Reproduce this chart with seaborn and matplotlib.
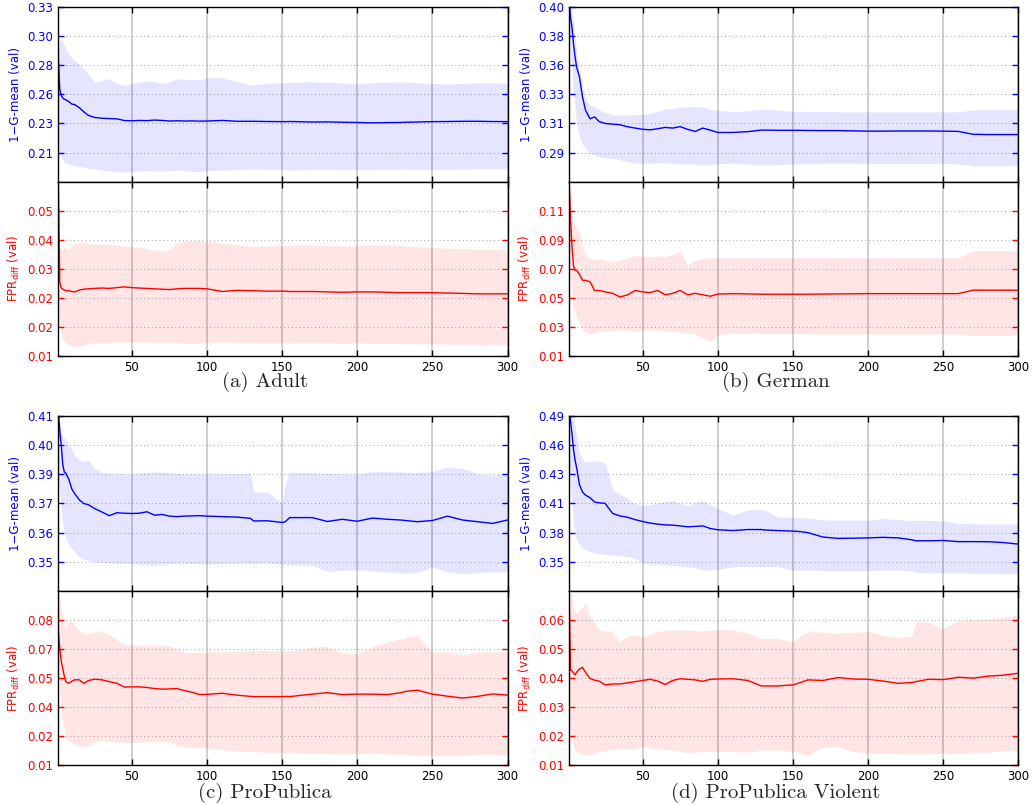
import numpy as np
import matplotlib
matplotlib.use("Agg")
import matplotlib.pyplot as plt
import seaborn as sns

# iteration grid the curves were read at
iters = [1, 2, 3, 4, 5, 6, 8, 10, 12, 15, 18, 21, 25,
         30, 35, 40, 45, 50, 55, 60, 65, 70, 75, 80, 85, 90, 95, 100,
         110, 120, 129, 131, 140, 150, 152, 155, 160, 170, 180, 190,
         200, 210, 220, 229, 232, 240, 250, 260, 270, 280, 290, 300]

# (a) Adult
adult_gm = [0.289, 0.262, 0.257, 0.255, 0.254, 0.2535, 0.252, 0.250, 0.2495, 0.247, 0.2436, 0.2407, 0.239,
            0.2383, 0.238, 0.2378, 0.2364, 0.2362, 0.2365, 0.2363, 0.2368, 0.2365, 0.236, 0.2362, 0.236, 0.2361, 0.2359, 0.236,
            0.2365, 0.2358, 0.2358, 0.2358, 0.2356, 0.2355, 0.2355, 0.2356, 0.2355, 0.2352, 0.2353, 0.235,
            0.2348, 0.2345, 0.2347, 0.2348, 0.235, 0.2352, 0.2355, 0.2356, 0.2358, 0.2358, 0.2356, 0.2355]
adult_gm_hi = [0.300, 0.302, 0.304, 0.302, 0.298, 0.295, 0.291, 0.288, 0.286, 0.283, 0.279, 0.275, 0.268,
               0.2695, 0.271, 0.267, 0.265, 0.267, 0.268, 0.269, 0.2685, 0.267, 0.268, 0.271, 0.2705, 0.270, 0.270, 0.2715,
               0.2715, 0.2685, 0.266, 0.266, 0.267, 0.2675, 0.2675, 0.2678, 0.268, 0.2685, 0.268, 0.2675,
               0.267, 0.2675, 0.268, 0.2685, 0.268, 0.2675, 0.267, 0.2665, 0.267, 0.2675, 0.2675, 0.267]
adult_gm_lo = [0.215, 0.209, 0.206, 0.204, 0.2025, 0.2015, 0.2005, 0.1995, 0.199, 0.1985, 0.198, 0.197, 0.1965,
               0.1956, 0.195, 0.1942, 0.1939, 0.1942, 0.1948, 0.1952, 0.195, 0.1948, 0.1952, 0.1955, 0.195, 0.1942, 0.1945, 0.195,
               0.1955, 0.196, 0.1965, 0.1965, 0.1962, 0.196, 0.196, 0.1958, 0.1958, 0.196, 0.1962, 0.196,
               0.1958, 0.196, 0.1962, 0.1963, 0.1963, 0.1962, 0.196, 0.1962, 0.1964, 0.1966, 0.1966, 0.1965]
adult_fpr = [0.057, 0.029, 0.0275, 0.0272, 0.027, 0.0268, 0.0268, 0.0266, 0.0265, 0.027, 0.0272, 0.0273, 0.0274,
             0.0275, 0.0274, 0.0276, 0.0278, 0.0276, 0.0275, 0.0274, 0.0273, 0.0272, 0.0271, 0.0273, 0.0274, 0.0274, 0.0274, 0.0273,
             0.0266, 0.0269, 0.0268, 0.0268, 0.0267, 0.0267, 0.0267, 0.0266, 0.0266, 0.0266, 0.0265, 0.0264,
             0.0265, 0.0265, 0.0264, 0.0263, 0.0263, 0.0263, 0.0263, 0.0262, 0.0261, 0.026, 0.026, 0.026]
adult_fpr_hi = [0.056, 0.038, 0.0375, 0.0378, 0.038, 0.0378, 0.0376, 0.0385, 0.039, 0.0393, 0.0395, 0.039, 0.0388,
                0.0389, 0.0388, 0.0386, 0.0384, 0.0382, 0.0379, 0.0377, 0.0372, 0.037, 0.0374, 0.0393, 0.0396, 0.0398, 0.0398, 0.0397,
                0.0392, 0.0387, 0.0383, 0.0383, 0.0384, 0.0385, 0.0385, 0.0386, 0.0386, 0.0386, 0.0385, 0.0384,
                0.0385, 0.0386, 0.0386, 0.0385, 0.0384, 0.0382, 0.038, 0.0378, 0.0377, 0.0376, 0.0375, 0.0374]
adult_fpr_lo = [0.021, 0.0175, 0.0155, 0.0143, 0.0138, 0.0134, 0.013, 0.0127, 0.0124, 0.0125, 0.0128, 0.013, 0.0132,
                0.0133, 0.0134, 0.0135, 0.0136, 0.0136, 0.0134, 0.0135, 0.0134, 0.0133, 0.0135, 0.0133, 0.0132, 0.0131, 0.0132, 0.0134,
                0.0135, 0.0134, 0.0134, 0.0134, 0.0133, 0.0133, 0.0133, 0.0133, 0.0134, 0.0133, 0.0133, 0.0132,
                0.0133, 0.0132, 0.0132, 0.0131, 0.0131, 0.0131, 0.013, 0.013, 0.0129, 0.0129, 0.0128, 0.0128]

# (b) German
german_gm = [0.41, 0.392, 0.385, 0.372, 0.363, 0.355, 0.347, 0.332, 0.322, 0.3155, 0.317, 0.3135, 0.312,
             0.3115, 0.311, 0.3095, 0.3085, 0.3076, 0.3072, 0.308, 0.309, 0.3085, 0.3096, 0.3075, 0.306, 0.3085, 0.307, 0.3052,
             0.3052, 0.3058, 0.307, 0.307, 0.3068, 0.3068, 0.3068, 0.3068, 0.3067, 0.3066, 0.3066, 0.3064,
             0.3062, 0.3062, 0.3063, 0.3063, 0.3063, 0.3063, 0.3062, 0.306, 0.3038, 0.3036, 0.3036, 0.3036]
german_gm_hi = [0.42, 0.41, 0.395, 0.388, 0.377, 0.366, 0.352, 0.340, 0.330, 0.326, 0.3245, 0.3225, 0.3205,
                0.3185, 0.3185, 0.3185, 0.3184, 0.319, 0.3197, 0.321, 0.323, 0.3235, 0.3243, 0.3245, 0.3248, 0.3245, 0.3225, 0.322,
                0.321, 0.3215, 0.3228, 0.3228, 0.322, 0.3212, 0.3212, 0.3212, 0.321, 0.321, 0.3208, 0.3208,
                0.3208, 0.3208, 0.3208, 0.3208, 0.3208, 0.3208, 0.3208, 0.3208, 0.3222, 0.3222, 0.3222, 0.3222]
german_gm_lo = [0.385, 0.365, 0.35, 0.333, 0.325, 0.312, 0.302, 0.296, 0.293, 0.2896, 0.288, 0.287, 0.286,
                0.2855, 0.2845, 0.2832, 0.282, 0.2818, 0.282, 0.2822, 0.2821, 0.282, 0.2816, 0.2814, 0.281, 0.2805, 0.2808, 0.2815,
                0.2821, 0.2815, 0.2805, 0.2805, 0.281, 0.2815, 0.2815, 0.2815, 0.2818, 0.282, 0.282, 0.282,
                0.2818, 0.2818, 0.2818, 0.2818, 0.2818, 0.2818, 0.2818, 0.2815, 0.28, 0.28, 0.2799, 0.2799]
german_fpr = [0.135, 0.105, 0.085, 0.072, 0.069, 0.069, 0.066, 0.062, 0.062, 0.061, 0.055, 0.055, 0.054,
              0.053, 0.0505, 0.052, 0.055, 0.054, 0.0535, 0.055, 0.052, 0.053, 0.055, 0.052, 0.053, 0.052, 0.051, 0.0525,
              0.0528, 0.0526, 0.0524, 0.0524, 0.0524, 0.0524, 0.0524, 0.0524, 0.0524, 0.0525, 0.0526, 0.0527,
              0.0528, 0.0528, 0.0528, 0.0528, 0.0528, 0.0528, 0.0528, 0.0528, 0.0552, 0.0552, 0.0552, 0.0552]
german_fpr_hi = [0.135, 0.115, 0.104, 0.102, 0.100, 0.098, 0.095, 0.085, 0.079, 0.077, 0.076, 0.077, 0.076,
                 0.075, 0.076, 0.077, 0.079, 0.079, 0.078, 0.079, 0.078, 0.080, 0.082, 0.072, 0.076, 0.077, 0.0772, 0.0775,
                 0.0775, 0.0775, 0.0775, 0.0775, 0.0775, 0.0775, 0.0775, 0.0775, 0.0775, 0.0775, 0.0775, 0.0775,
                 0.0775, 0.0775, 0.0775, 0.0775, 0.0775, 0.0775, 0.0775, 0.0775, 0.0825, 0.0825, 0.0825, 0.0825]
german_fpr_lo = [0.09, 0.065, 0.05, 0.043, 0.04, 0.037, 0.032, 0.028, 0.026, 0.025, 0.026, 0.027, 0.027,
                 0.0272, 0.0279, 0.0275, 0.0268, 0.0275, 0.0279, 0.0276, 0.0268, 0.027, 0.0262, 0.0256, 0.025, 0.022, 0.0198, 0.0245,
                 0.0255, 0.0255, 0.0253, 0.0253, 0.0252, 0.0252, 0.0252, 0.0252, 0.0251, 0.0251, 0.025, 0.025,
                 0.025, 0.025, 0.025, 0.025, 0.025, 0.025, 0.025, 0.025, 0.024, 0.024, 0.024, 0.024]

# (c) ProPublica
propub_gm = [0.412, 0.404, 0.398, 0.390, 0.387, 0.3865, 0.384, 0.380, 0.378, 0.3755, 0.374, 0.3735, 0.372,
             0.3705, 0.369, 0.3702, 0.370, 0.3699, 0.370, 0.3706, 0.3692, 0.3695, 0.3688, 0.3686, 0.3688, 0.3689, 0.369, 0.3688,
             0.3686, 0.3684, 0.3679, 0.3668, 0.3669, 0.3662, 0.3665, 0.3682, 0.3682, 0.3682, 0.3666, 0.3675,
             0.3667, 0.368, 0.3675, 0.3672, 0.367, 0.3665, 0.367, 0.3688, 0.3672, 0.3665, 0.3658, 0.3672]
propub_gm_hi = [0.415, 0.41, 0.4028, 0.4015, 0.401, 0.400, 0.398, 0.396, 0.3935, 0.392, 0.3912, 0.3918, 0.3885,
                0.3868, 0.3864, 0.3865, 0.3862, 0.3862, 0.3866, 0.3868, 0.387, 0.387, 0.3866, 0.3864, 0.3862, 0.3862, 0.3862, 0.3862,
                0.3862, 0.3863, 0.3864, 0.3788, 0.3788, 0.374, 0.3822, 0.387, 0.3868, 0.3866, 0.3864, 0.3862,
                0.386, 0.3872, 0.3872, 0.387, 0.3868, 0.3868, 0.3872, 0.389, 0.3885, 0.3862, 0.3855, 0.387]
propub_gm_lo = [0.385, 0.379, 0.3712, 0.366, 0.3625, 0.360, 0.357, 0.3555, 0.354, 0.352, 0.351, 0.3507, 0.350,
                0.3497, 0.3495, 0.3494, 0.3494, 0.3494, 0.349, 0.3488, 0.3487, 0.349, 0.3492, 0.3494, 0.3494, 0.3493, 0.3492, 0.3492,
                0.3492, 0.3493, 0.3494, 0.3494, 0.3495, 0.349, 0.3487, 0.3487, 0.3487, 0.3487, 0.346, 0.3465,
                0.3467, 0.3462, 0.3459, 0.3455, 0.3452, 0.3455, 0.3478, 0.3459, 0.3452, 0.3455, 0.3459, 0.3459]
propub_fpr = [0.0752, 0.0665, 0.060, 0.0565, 0.053, 0.0503, 0.0495, 0.0505, 0.0512, 0.0512, 0.0495, 0.0508, 0.0515,
              0.0512, 0.0503, 0.0495, 0.0477, 0.0478, 0.0478, 0.0475, 0.047, 0.0467, 0.0468, 0.047, 0.046, 0.0452, 0.0441, 0.0442,
              0.0447, 0.0438, 0.0432, 0.0431, 0.0431, 0.0431, 0.0432, 0.0431, 0.0435, 0.0443, 0.045, 0.0441,
              0.0443, 0.0443, 0.0441, 0.045, 0.0456, 0.0462, 0.0443, 0.0433, 0.0424, 0.0432, 0.0444, 0.0438]
propub_fpr_hi = [0.093, 0.090, 0.0865, 0.081, 0.078, 0.0755, 0.079, 0.080, 0.077, 0.0752, 0.0738, 0.0735, 0.0742,
                 0.0744, 0.073, 0.0705, 0.0682, 0.068, 0.068, 0.068, 0.068, 0.0678, 0.0676, 0.066, 0.0645, 0.0643, 0.0645, 0.0645,
                 0.0648, 0.065, 0.0653, 0.0653, 0.0653, 0.0652, 0.0652, 0.0652, 0.0655, 0.067, 0.0672, 0.064,
                 0.0634, 0.0672, 0.0695, 0.071, 0.0715, 0.0725, 0.0645, 0.0648, 0.0632, 0.0645, 0.0647, 0.0647]
propub_fpr_lo = [0.060, 0.046, 0.036, 0.031, 0.027, 0.024, 0.0215, 0.0207, 0.0198, 0.019, 0.019, 0.0195, 0.021,
                 0.0222, 0.0215, 0.0212, 0.0212, 0.0212, 0.0212, 0.0213, 0.0213, 0.0213, 0.0214, 0.0195, 0.019, 0.0186, 0.0184, 0.0183,
                 0.0175, 0.0168, 0.0165, 0.0165, 0.0163, 0.0161, 0.016, 0.016, 0.016, 0.0158, 0.0156, 0.0156,
                 0.0156, 0.0157, 0.0156, 0.0152, 0.015, 0.0146, 0.0148, 0.0145, 0.0147, 0.0152, 0.015, 0.0148]

# (d) ProPublica Violent
violent_gm = [0.50, 0.485, 0.4732, 0.458, 0.448, 0.441, 0.424, 0.417, 0.414, 0.4115, 0.4075, 0.4066, 0.4062,
              0.3965, 0.394, 0.3928, 0.3905, 0.3887, 0.3872, 0.3862, 0.3855, 0.3852, 0.3845, 0.3836, 0.384, 0.3845, 0.382, 0.3808,
              0.380, 0.381, 0.381, 0.3806, 0.380, 0.3795, 0.3793, 0.379, 0.378, 0.3738, 0.3725, 0.3727,
              0.373, 0.3735, 0.373, 0.3712, 0.3702, 0.3702, 0.3705, 0.3694, 0.3694, 0.3693, 0.3685, 0.367]
violent_gm_hi = [0.52, 0.51, 0.50, 0.49, 0.48, 0.472, 0.455, 0.449, 0.446, 0.446, 0.4465, 0.447, 0.445,
                 0.419, 0.415, 0.4105, 0.406, 0.4043, 0.405, 0.4065, 0.408, 0.409, 0.406, 0.404, 0.407, 0.409, 0.405, 0.4012,
                 0.3948, 0.3998, 0.3998, 0.3998, 0.3934, 0.3925, 0.3924, 0.3922, 0.392, 0.3902, 0.390, 0.390,
                 0.390, 0.3917, 0.3905, 0.3897, 0.3897, 0.3897, 0.3895, 0.387, 0.3866, 0.3863, 0.3863, 0.3863]
violent_gm_lo = [0.45, 0.425, 0.405, 0.387, 0.378, 0.371, 0.367, 0.3635, 0.3615, 0.3595, 0.3585, 0.358, 0.357,
                 0.3563, 0.3558, 0.3552, 0.353, 0.3488, 0.348, 0.3476, 0.347, 0.3466, 0.346, 0.3453, 0.344, 0.3425, 0.342, 0.3425,
                 0.3453, 0.3453, 0.3453, 0.3453, 0.3453, 0.3422, 0.342, 0.342, 0.3418, 0.3416, 0.3416, 0.3416,
                 0.3416, 0.3418, 0.342, 0.341, 0.340, 0.3396, 0.3396, 0.3396, 0.339, 0.3388, 0.3385, 0.3382]
violent_fpr = [0.072, 0.0428, 0.0425, 0.0418, 0.0411, 0.042, 0.0432, 0.0437, 0.042, 0.0399, 0.0393, 0.039, 0.0377,
               0.038, 0.038, 0.0384, 0.0388, 0.0392, 0.0396, 0.039, 0.0378, 0.0392, 0.0398, 0.0396, 0.0394, 0.0389, 0.0396, 0.0397,
               0.0398, 0.0392, 0.0373, 0.0373, 0.0373, 0.0377, 0.038, 0.0385, 0.0394, 0.0392, 0.0402, 0.0397,
               0.0396, 0.039, 0.0382, 0.0385, 0.0388, 0.0396, 0.0395, 0.0403, 0.040, 0.0407, 0.041, 0.0417]
violent_fpr_hi = [0.072, 0.070, 0.068, 0.0646, 0.063, 0.0623, 0.0635, 0.0646, 0.066, 0.0612, 0.059, 0.0566, 0.0562,
                  0.056, 0.0525, 0.0545, 0.0549, 0.0543, 0.0552, 0.056, 0.0566, 0.0565, 0.0567, 0.0566, 0.0563, 0.0562, 0.0565, 0.0568,
                  0.0566, 0.0555, 0.0537, 0.0537, 0.0537, 0.0525, 0.0535, 0.0545, 0.056, 0.0558, 0.0555, 0.0558,
                  0.056, 0.0548, 0.054, 0.0545, 0.0594, 0.0594, 0.057, 0.0598, 0.060, 0.0605, 0.061, 0.0617]
violent_fpr_lo = [0.030, 0.022, 0.0187, 0.0165, 0.0155, 0.0147, 0.0142, 0.0138, 0.0135, 0.0137, 0.0142, 0.0147, 0.015,
                  0.0155, 0.0159, 0.0156, 0.0155, 0.0165, 0.016, 0.0155, 0.0155, 0.0152, 0.0148, 0.0143, 0.0145, 0.0147, 0.0147, 0.0147,
                  0.0147, 0.0145, 0.0153, 0.0153, 0.0153, 0.0148, 0.0145, 0.014, 0.0135, 0.0162, 0.0164, 0.0148,
                  0.0141, 0.0141, 0.014, 0.014, 0.014, 0.014, 0.0141, 0.0141, 0.0143, 0.0145, 0.015, 0.0153]

captions = ['(a) Adult', '(b) German', '(c) ProPublica', '(d) ProPublica Violent']

gm_ylims = [(0.186, 0.33), (0.268, 0.40), (0.338, 0.41), (0.322, 0.49)]
fpr_ylims = [(0.01, 0.055), (0.01, 0.13), (0.01, 0.094), (0.01, 0.07)]
gm_ticklabels = [['0.21', '0.23', '0.26', '0.28', '0.30', '0.33'],
                 ['0.29', '0.31', '0.33', '0.36', '0.38', '0.40'],
                 ['0.35', '0.36', '0.37', '0.39', '0.40', '0.41'],
                 ['0.35', '0.38', '0.41', '0.43', '0.46', '0.49']]
fpr_ticklabels = [['0.01', '0.02', '0.02', '0.03', '0.04', '0.05'],
                  ['0.01', '0.03', '0.05', '0.07', '0.09', '0.11'],
                  ['0.01', '0.02', '0.04', '0.05', '0.07', '0.08'],
                  ['0.01', '0.02', '0.03', '0.04', '0.05', '0.06']]
xtick_vals = [50, 100, 150, 200, 250, 300]

gm_series = [(adult_gm, adult_gm_lo, adult_gm_hi), (german_gm, german_gm_lo, german_gm_hi),
             (propub_gm, propub_gm_lo, propub_gm_hi), (violent_gm, violent_gm_lo, violent_gm_hi)]
fpr_series = [(adult_fpr, adult_fpr_lo, adult_fpr_hi), (german_fpr, german_fpr_lo, german_fpr_hi),
              (propub_fpr, propub_fpr_lo, propub_fpr_hi), (violent_fpr, violent_fpr_lo, violent_fpr_hi)]

sns.set_style('white')
plt.rcParams['font.family'] = ['DejaVu Sans']

BLUE = '#0000ff'
RED = '#ff0000'
FS = 8.5


def style_axis(ax, color, ylim, labels, top_part):
    lo, hi = ylim
    pos = np.linspace(lo, hi, 7)
    pos = pos[1:] if top_part else pos[:-1]
    ax.set_xlim(1, 300)
    ax.set_ylim(lo, hi)
    ax.set_yticks(pos)
    ax.set_yticklabels(labels)
    ax.set_xticks(xtick_vals)
    ax.set_axisbelow(True)
    ax.xaxis.grid(True, color='0.8', lw=1.3, ls='-')
    ax.yaxis.grid(True, color='0.65', lw=0.7, ls=(0, (1, 3)))
    ax.tick_params(axis='y', colors=color, direction='in', length=4, width=1,
                   left=True, right=True, labelsize=FS)
    ax.tick_params(axis='x', colors='k', direction='in', length=4, width=1,
                   top=True, bottom=True, labelsize=FS, labelbottom=not top_part)
    for sp in ax.spines.values():
        sp.set_color('k')
        sp.set_linewidth(1.0)
    ax.set_xlabel('')
    ax.yaxis.set_label_coords(-0.08, 0.5)


fig = plt.figure(figsize=(10.33, 8.05), dpi=100)

col_left = [0.0564, 0.5508]
col_w = 0.4350
row_boxes = [(0.77429, 0.21702, 0.55814, 0.21615),
             (0.26584, 0.21739, 0.04932, 0.21652)]
cap_x = [0.2565, 0.751]
cap_y = [0.5255, 0.0150]

for i in range(4):
    r, c = divmod(i, 2)
    tb, th, bb, bh = row_boxes[r]
    ax1 = fig.add_axes([col_left[c], tb, col_w, th])
    ax2 = fig.add_axes([col_left[c], bb, col_w, bh])

    m, lo, hi = gm_series[i]
    ax1.fill_between(iters, lo, hi, color=BLUE, alpha=0.1, lw=0)
    sns.lineplot(x=iters, y=m, ax=ax1, color=BLUE, lw=1.0)
    style_axis(ax1, BLUE, gm_ylims[i], gm_ticklabels[i], True)
    ax1.set_ylabel('1\u2212G-mean (val)', color=BLUE, fontsize=FS)

    m, lo, hi = fpr_series[i]
    ax2.fill_between(iters, lo, hi, color=RED, alpha=0.1, lw=0)
    sns.lineplot(x=iters, y=m, ax=ax2, color=RED, lw=1.0)
    style_axis(ax2, RED, fpr_ylims[i], fpr_ticklabels[i], False)
    ax2.set_ylabel(r'FPR$_{\mathrm{diff}}$ (val)', color=RED, fontsize=FS)

    fig.text(cap_x[c], cap_y[r], captions[i], fontfamily='cmr10', fontsize=15,
             ha='center', va='center')

fig.savefig('out.png', dpi=100)
